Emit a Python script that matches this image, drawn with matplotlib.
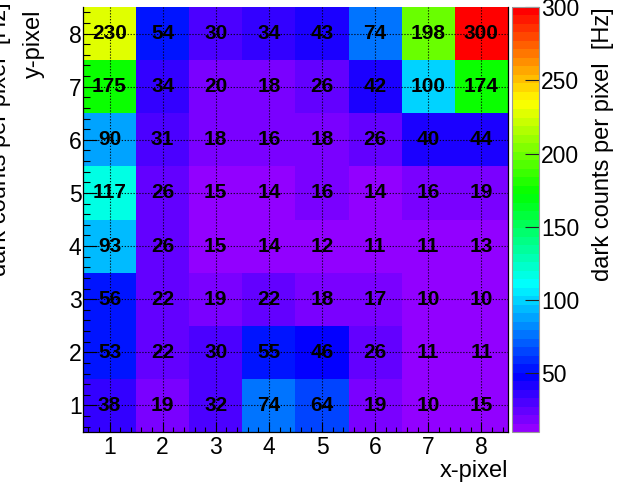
import colorsys
import numpy as np
import matplotlib
matplotlib.use("Agg")
import matplotlib.pyplot as plt
from matplotlib.colors import ListedColormap, Normalize
from matplotlib.ticker import MultipleLocator

plt.rcParams['font.family'] = ['Liberation Sans', 'DejaVu Sans']

# dark counts per pixel [Hz], rows from y-pixel 1 (bottom) to 8 (top)
x_pixels = [1, 2, 3, 4, 5, 6, 7, 8]
y_pixels = [1, 2, 3, 4, 5, 6, 7, 8]
counts = [
    [38, 19, 32, 74, 64, 19, 10, 15],
    [53, 22, 30, 55, 46, 26, 11, 11],
    [56, 22, 19, 22, 18, 17, 10, 10],
    [93, 26, 15, 14, 12, 11, 11, 13],
    [117, 26, 15, 14, 16, 14, 16, 19],
    [90, 31, 18, 16, 18, 26, 40, 44],
    [175, 34, 20, 18, 26, 42, 100, 174],
    [230, 54, 30, 34, 43, 74, 198, 300],
]
z_ticks = [50, 100, 150, 200, 250, 300]
z_title = "dark counts per pixel  [Hz]"

# 50 step violet -> red spectrum
pal = [colorsys.hls_to_rgb((280 - (i + 1) * 5.6) / 360.0, 0.5, 1.0) for i in range(50)]
cmap = ListedColormap(pal)

z = np.array(counts)
norm = Normalize(vmin=z.min(), vmax=z.max())

fig = plt.figure(figsize=(6.3, 4.86), dpi=100)
ax = fig.add_axes([0.1317, 0.1111, 0.6746, 0.8745])
cax = fig.add_axes([0.8127, 0.1111, 0.0429, 0.8745])

xe = np.arange(len(x_pixels) + 1) + 0.5
ye = np.arange(len(y_pixels) + 1) + 0.5
mesh = ax.pcolormesh(xe, ye, z, cmap=cmap, norm=norm)

for j, yp in enumerate(y_pixels):
    for i, xp in enumerate(x_pixels):
        ax.text(xp, yp, str(counts[j][i]), ha='center', va='center',
                fontsize=15, fontweight='bold', color='black', zorder=5)

ax.set_xlim(0.5, 8.5)
ax.set_ylim(0.5, 8.5)
ax.xaxis.set_major_locator(MultipleLocator(1))
ax.yaxis.set_major_locator(MultipleLocator(1))
ax.xaxis.set_minor_locator(MultipleLocator(0.2))
ax.yaxis.set_minor_locator(MultipleLocator(0.2))
ax.tick_params(axis='x', which='major', direction='in', length=7, width=0.8, labelsize=16.5, pad=3)
ax.tick_params(axis='x', which='minor', direction='in', length=3.5, width=0.8)
ax.tick_params(axis='y', which='major', direction='in', length=10, width=0.8, labelsize=16.5, pad=1)
ax.tick_params(axis='y', which='minor', direction='in', length=5, width=0.8)
ax.set_axisbelow(False)
ax.grid(True, which='major', color='black', linestyle=':', linewidth=0.8)
ax.spines['top'].set_visible(False)
for s in ['left', 'bottom', 'right']:
    ax.spines[s].set_linewidth(0.9)

ax.set_xlabel("x-pixel", fontsize=17, loc='right')
ax.xaxis.set_label_coords(1.0, -0.067)
ax.xaxis.label.set_va('top')
ax.set_ylabel("y-pixel", fontsize=17, loc='top')
ax.yaxis.set_label_coords(-0.09, 0.995)
ax.yaxis.label.set_va('bottom')

cb = fig.colorbar(mesh, cax=cax, ticks=z_ticks)
cb.outline.set_edgecolor('#999999')
cb.outline.set_linewidth(0.8)
cax.tick_params(direction='in', length=10, width=0.8, labelsize=16.5, pad=1.5, color='#222222')
cb.set_label(z_title, fontsize=17, loc='top')
cax.yaxis.set_label_coords(2.95, 1.0)

# duplicate z title drawn partly off the left edge
fig.text(0.0, 1 - 2 / 486, z_title, rotation=90, fontsize=17, ha='center', va='top')

fig.savefig("out.png", dpi=100)
